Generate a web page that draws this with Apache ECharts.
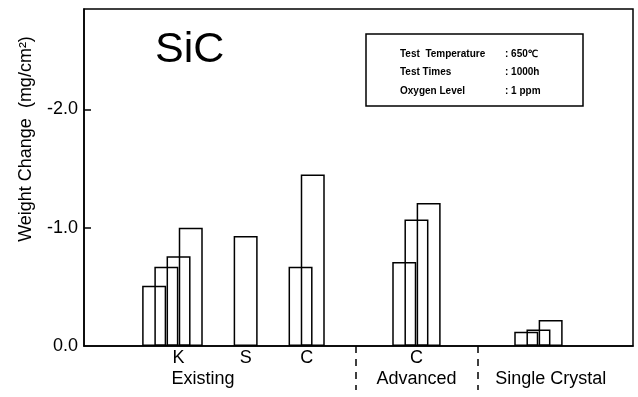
<!DOCTYPE html>
<html>
<head>
<meta charset="utf-8">
<script src="https://cdn.jsdelivr.net/npm/echarts@6/dist/echarts.min.js"></script>
<style>html,body{margin:0;padding:0;background:#fff;}#c{width:638px;height:397px;}</style>
</head>
<body>
<div id="c"></div>
<script>
// ---- data (weight change, mg/cm2; negative = weight gain plotted upward) ----
const existingK = [-0.51, -0.67, -0.76, -1.00];
const existingS = [-0.93];
const existingC = [-0.67, -1.45];
const advancedC = [-0.71, -1.07, -1.21];
const singleCrystal = [-0.12, -0.14, -0.22];
const materialLabels = ['K', 'S', 'C', 'C'];
const groupLabels = ['Existing', 'Advanced', 'Single Crystal'];
const yTickValues = [0, -1, -2];
const infoLabels = ['Test  Temperature', 'Test Times', 'Oxygen Level'];
const infoValues = [': 650\u2103', ': 1000h', ': 1 ppm'];

// ---- layout: fine category slots, bars two steps wide overlapping by half ----
const SLOTS = 90;
const STEP = 2;
const groupStart = [11, 26, 35, 52, 72];
const groupsData = [existingK, existingS, existingC, advancedC, singleCrystal];
const materialSlot = [15, 26, 36, 54];
const groupLabelSlot = [19, 54, 76];
const dividerSlot = [44, 64];

const barData = new Array(SLOTS).fill(null);
groupsData.forEach((arr, g) => arr.forEach((v, k) => { barData[groupStart[g] + k * STEP] = v; }));
const matCats = new Array(SLOTS).fill('');
materialSlot.forEach((s, i) => { matCats[s] = materialLabels[i]; });
const grpCats = new Array(SLOTS).fill('');
groupLabelSlot.forEach((s, i) => { grpCats[s] = groupLabels[i]; });

const FONT = 'Liberation Sans, Arial, sans-serif';
const chart = echarts.init(document.getElementById('c'), null, {renderer: 'canvas'});
chart.setOption({
  animation: false,
  backgroundColor: '#fff',
  grid: {left: 84, right: 5, top: 9, bottom: 51, show: true, borderColor: '#000', borderWidth: 1.5, backgroundColor: 'transparent'},
  title: {text: 'SiC', left: 150, top: 24, textStyle: {fontFamily: FONT, fontSize: 43, fontWeight: 'normal', color: '#000'}},
  xAxis: [
    {type: 'category', data: matCats, position: 'bottom',
     axisLine: {show: true, lineStyle: {color: '#000', width: 1.5}},
     axisTick: {show: false},
     axisLabel: {interval: 0, margin: 3, color: '#000', fontFamily: FONT, fontSize: 18}},
    {type: 'category', data: grpCats, position: 'bottom',
     axisLine: {show: false},
     axisTick: {show: true, alignWithLabel: true, length: 44, inside: false,
       interval: (idx) => dividerSlot.indexOf(idx) >= 0,
       lineStyle: {color: '#000', width: 1.5, type: [7, 6]}},
     axisLabel: {interval: 0, margin: 24, color: '#000', fontFamily: FONT, fontSize: 18}}
  ],
  yAxis: {
    type: 'value', inverse: true, min: -2.85, max: 0,
    axisLine: {show: true, lineStyle: {color: '#000', width: 1.5}},
    axisTick: {show: true, inside: true, length: 7, customValues: [-1, -2], lineStyle: {color: '#000', width: 1.5}},
    axisLabel: {customValues: yTickValues, margin: 6, color: '#000', fontFamily: FONT, fontSize: 18,
      formatter: v => v === 0 ? '0.0' : v.toFixed(1)},
    splitLine: {show: false}
  },
  series: [{
    type: 'bar', xAxisIndex: 0, data: barData, barWidth: 24,
    itemStyle: {color: 'rgba(255,255,255,0)', borderColor: '#000', borderWidth: 1.5}
  }],
  graphic: [
    {type: 'text', x: 26, y: 139, rotation: Math.PI / 2,
     style: {text: 'Weight Change  (mg/cm\u00b2)', font: '18px ' + FONT, fill: '#000', align: 'center', verticalAlign: 'middle'}},
    {type: 'rect', shape: {x: 366, y: 34, width: 217, height: 72},
     style: {fill: '#fff', stroke: '#000', lineWidth: 1.5}},
    {type: 'text', x: 400, y: 54, style: {text: infoLabels[0], font: 'bold 10px ' + FONT, fill: '#000', verticalAlign: 'middle'}},
    {type: 'text', x: 400, y: 72, style: {text: infoLabels[1], font: 'bold 10px ' + FONT, fill: '#000', verticalAlign: 'middle'}},
    {type: 'text', x: 400, y: 91, style: {text: infoLabels[2], font: 'bold 10px ' + FONT, fill: '#000', verticalAlign: 'middle'}},
    {type: 'text', x: 505, y: 54, style: {text: infoValues[0], font: 'bold 10px ' + FONT, fill: '#000', verticalAlign: 'middle'}},
    {type: 'text', x: 505, y: 72, style: {text: infoValues[1], font: 'bold 10px ' + FONT, fill: '#000', verticalAlign: 'middle'}},
    {type: 'text', x: 505, y: 91, style: {text: infoValues[2], font: 'bold 10px ' + FONT, fill: '#000', verticalAlign: 'middle'}}
  ]
});
</script>
</body>
</html>
